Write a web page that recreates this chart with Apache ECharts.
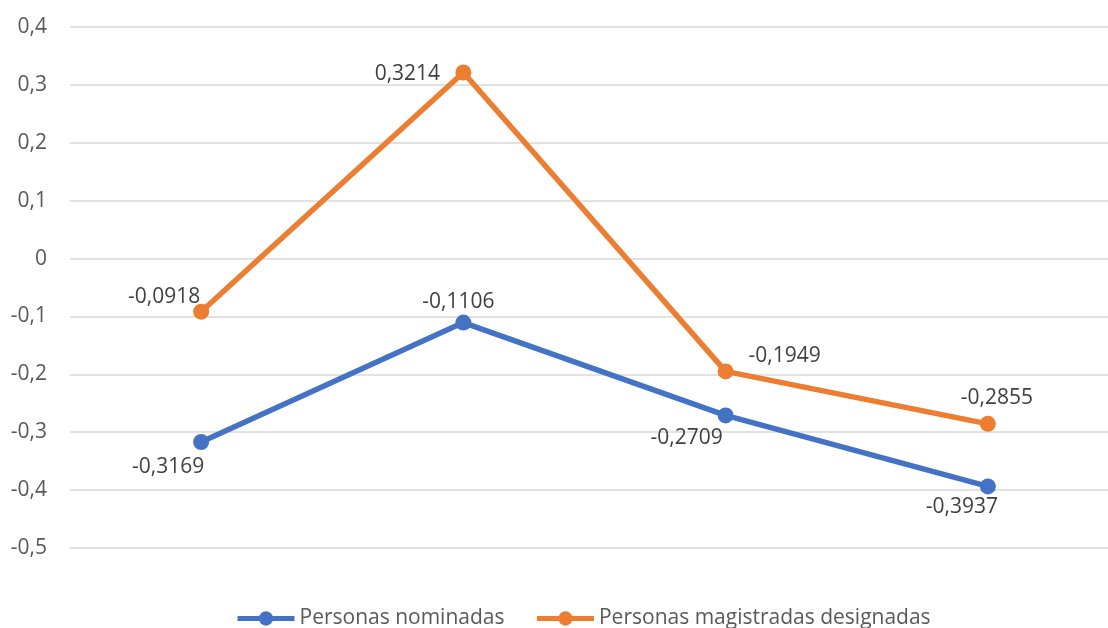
<!DOCTYPE html>
<html>
<head>
<meta charset="utf-8">
<script src="https://cdn.jsdelivr.net/npm/echarts@6/dist/echarts.min.js"></script>
<style>
  html, body { margin: 0; padding: 0; background: #fff; }
  #chart { width: 1108px; height: 628px; }
</style>
</head>
<body>
<div id="chart"></div>
<script>
const categories = ['1', '2', '3', '4'];
const nominadas = [-0.3169, -0.1106, -0.2709, -0.3937];
const designadas = [-0.0918, 0.3214, -0.1949, -0.2855];
const seriesNames = ['Personas nominadas', 'Personas magistradas designadas'];

// per-point label placement offsets [dx, dy] relative to each marker
const nominadasLabelOffsets = [[-33, 25], [-5, -21], [-39, 23], [-26, 21]];
const designadasLabelOffsets = [[-37, -15], [-56, 2], [59, -15], [9, -26]];

const fmt = v => String(v).replace('.', ',');
const fontFamily = '"Open Sans", "Noto Sans", sans-serif';
const textSize = 21;

function buildData(values, offsets) {
  return values.map((v, i) => ({
    value: v,
    label: { offset: offsets[i] }
  }));
}

function lineSeries(name, values, offsets, color) {
  return {
    name,
    type: 'line',
    data: buildData(values, offsets),
    symbol: 'circle',
    symbolSize: 16,
    lineStyle: { width: 5.5, color },
    itemStyle: { color },
    label: {
      show: true,
      position: 'inside',
      fontSize: textSize,
      color: '#404040',
      formatter: p => fmt(p.value)
    }
  };
}

const chart = echarts.init(document.getElementById('chart'));
chart.setOption({
  animation: false,
  textStyle: { fontFamily },
  grid: { left: 70, top: 27, width: 1049, height: 521, outerBoundsMode: 'none' },
  legend: {
    top: 603,
    left: 230,
    itemWidth: 57,
    itemHeight: 18,
    itemGap: 30,
    lineStyle: { width: 5 },
    textStyle: { fontSize: textSize, color: '#595959', fontFamily },
    data: seriesNames
  },
  xAxis: {
    type: 'category',
    data: categories,
    boundaryGap: true,
    axisLine: { show: false },
    axisTick: { show: false },
    axisLabel: { show: false }
  },
  yAxis: {
    type: 'value',
    min: -0.5,
    max: 0.4,
    interval: 0.1,
    axisLine: { show: false },
    axisTick: { show: false },
    axisLabel: {
      fontSize: textSize,
      color: '#595959',
      margin: 23,
      formatter: v => fmt(Math.round(v * 10) / 10)
    },
    splitLine: { lineStyle: { color: '#d9d9d9', width: 1.5 } }
  },
  series: [
    lineSeries(seriesNames[0], nominadas, nominadasLabelOffsets, '#4472C4'),
    lineSeries(seriesNames[1], designadas, designadasLabelOffsets, '#ED7D31')
  ]
});
</script>
</body>
</html>
